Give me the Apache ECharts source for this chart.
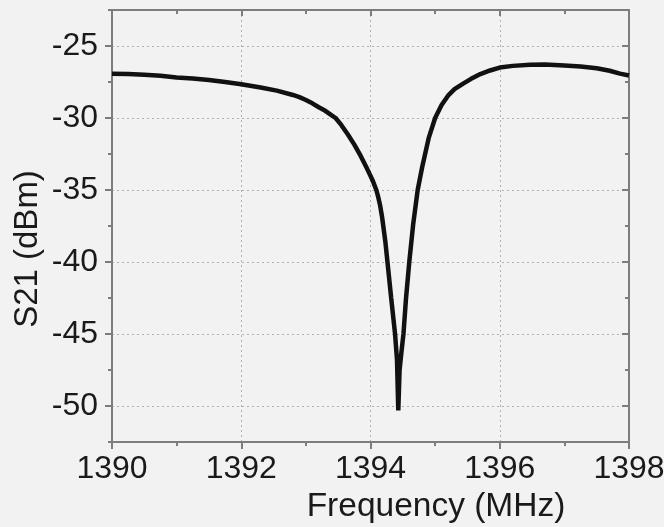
<!DOCTYPE html>
<html>
<head>
<meta charset="utf-8">
<script src="https://cdn.jsdelivr.net/npm/echarts@6/dist/echarts.min.js"></script>
<style>
html, body { margin: 0; padding: 0; background: #f2f2f2; }
#chart { width: 664px; height: 527px; }
</style>
</head>
<body>
<div id="chart"></div>
<script>
// frequency (MHz) and S21 (dBm)
var freq = [1390.0, 1390.25, 1390.5, 1390.75, 1391.0, 1391.25, 1391.5, 1391.75, 1392.0, 1392.3,
	1392.55, 1392.8, 1392.9, 1393.0, 1393.1, 1393.2, 1393.3, 1393.4, 1393.46, 1393.55,
	1393.65, 1393.75, 1393.85, 1393.95, 1394.03, 1394.09, 1394.12, 1394.15, 1394.18, 1394.23,
	1394.26, 1394.32, 1394.38, 1394.41, 1394.43, 1394.45, 1394.48, 1394.51, 1394.55, 1394.6,
	1394.66, 1394.73, 1394.8, 1394.9, 1395.0, 1395.1, 1395.2, 1395.3, 1395.44, 1395.55,
	1395.7, 1395.85, 1396.0, 1396.2, 1396.47, 1396.7, 1397.0, 1397.25, 1397.5, 1397.7,
	1397.86, 1398.0];
var s21 = [-26.92, -26.95, -27.0, -27.07, -27.18, -27.25, -27.36, -27.5, -27.66, -27.88,
	-28.1, -28.4, -28.55, -28.75, -28.98, -29.25, -29.5, -29.82, -30.0, -30.5,
	-31.15, -31.85, -32.65, -33.55, -34.3, -35.0, -35.5, -36.1, -36.9, -38.6,
	-39.9, -42.5, -45.0, -46.8, -50.3, -47.5, -46.2, -45.0, -42.5, -40.0,
	-37.4, -35.0, -33.4, -31.4, -30.0, -29.1, -28.45, -28.0, -27.6, -27.3,
	-26.95, -26.7, -26.5, -26.38, -26.3, -26.28, -26.35, -26.42, -26.55, -26.72,
	-26.92, -27.05];
var xTicks = [1390, 1392, 1394, 1396, 1398];
var yMajor = [-50, -45, -40, -35, -30, -25];

var points = freq.map(function (f, i) { return [f, s21[i]]; });

var myChart = echarts.init(document.getElementById('chart'));
var frameColor = '#7d7d7d';
var fontFamily = 'Liberation Sans, Arial, sans-serif';
var labelFont = { color: '#1a1a1a', fontSize: 32, fontFamily: fontFamily };

myChart.setOption({
	animation: false,
	backgroundColor: '#f2f2f2',
	grid: { left: 112, right: 35, top: 10, bottom: 85, outerBoundsMode: 'none', containLabel: false },
	xAxis: [{
		type: 'value', position: 'bottom', min: 1390, max: 1398, interval: 2,
		axisLine: { lineStyle: { color: frameColor, width: 2 } },
		axisTick: { inside: false, length: 7, lineStyle: { color: frameColor, width: 2 } },
		minorTick: { show: true, splitNumber: 2, length: 4, lineStyle: { color: frameColor, width: 2 } },
		axisLabel: Object.assign({ margin: 11, customValues: xTicks, formatter: function (v) { return String(v); } }, labelFont),
		splitLine: { show: true, lineStyle: { color: '#b0b0b0', type: [2, 3], width: 1 } }
	}, {
		type: 'value', position: 'top', min: 1390, max: 1398, interval: 2,
		axisLine: { lineStyle: { color: frameColor, width: 2 } },
		axisTick: { inside: true, length: 6, lineStyle: { color: frameColor, width: 2 } },
		minorTick: { show: true, splitNumber: 2, length: 4, lineStyle: { color: frameColor, width: 2 } },
		axisLabel: { show: false },
		splitLine: { show: false }
	}],
	yAxis: [{
		type: 'value', position: 'left', min: -52.5, max: -22.5, interval: 2.5,
		axisLine: { lineStyle: { color: frameColor, width: 2 } },
		axisTick: { inside: false, length: 7, customValues: yMajor, lineStyle: { color: frameColor, width: 2 } },
		axisLabel: Object.assign({ margin: 14, customValues: yMajor }, labelFont),
		splitLine: { show: true, lineStyle: { color: '#b0b0b0', type: [2, 3], width: 1 } }
	}, {
		type: 'value', position: 'left', min: -52.5, max: -22.5, interval: 2.5,
		axisLine: { show: false },
		axisTick: { inside: false, length: 4, lineStyle: { color: frameColor, width: 2 } },
		axisLabel: { show: false },
		splitLine: { show: false }
	}, {
		type: 'value', position: 'right', min: -52.5, max: -22.5, interval: 2.5,
		axisLine: { show: true, lineStyle: { color: frameColor, width: 2 } },
		axisTick: { inside: true, length: 7, customValues: yMajor, lineStyle: { color: frameColor, width: 2 } },
		axisLabel: { show: false },
		splitLine: { show: false }
	}, {
		type: 'value', position: 'right', min: -52.5, max: -22.5, interval: 2.5,
		axisLine: { show: false },
		axisTick: { inside: true, length: 4, lineStyle: { color: frameColor, width: 2 } },
		axisLabel: { show: false },
		splitLine: { show: false }
	}],
	graphic: [{
		type: 'text', x: 436, y: 507,
		style: { text: 'Frequency (MHz)', align: 'center', verticalAlign: 'middle',
			fill: '#1a1a1a', fontSize: 33.5, fontFamily: fontFamily }
	}, {
		type: 'text', x: 28, y: 249, rotation: Math.PI / 2,
		style: { text: 'S21 (dBm)', align: 'center', verticalAlign: 'middle',
			fill: '#1a1a1a', fontSize: 33, fontFamily: fontFamily }
	}],
	series: [{
		type: 'line',
		xAxisIndex: 0, yAxisIndex: 0,
		data: points,
		showSymbol: false,
		lineStyle: { color: '#111', width: 4.5 }
	}]
});
window.onresize = function () {
	myChart.resize();
};
</script>
</body>
</html>
